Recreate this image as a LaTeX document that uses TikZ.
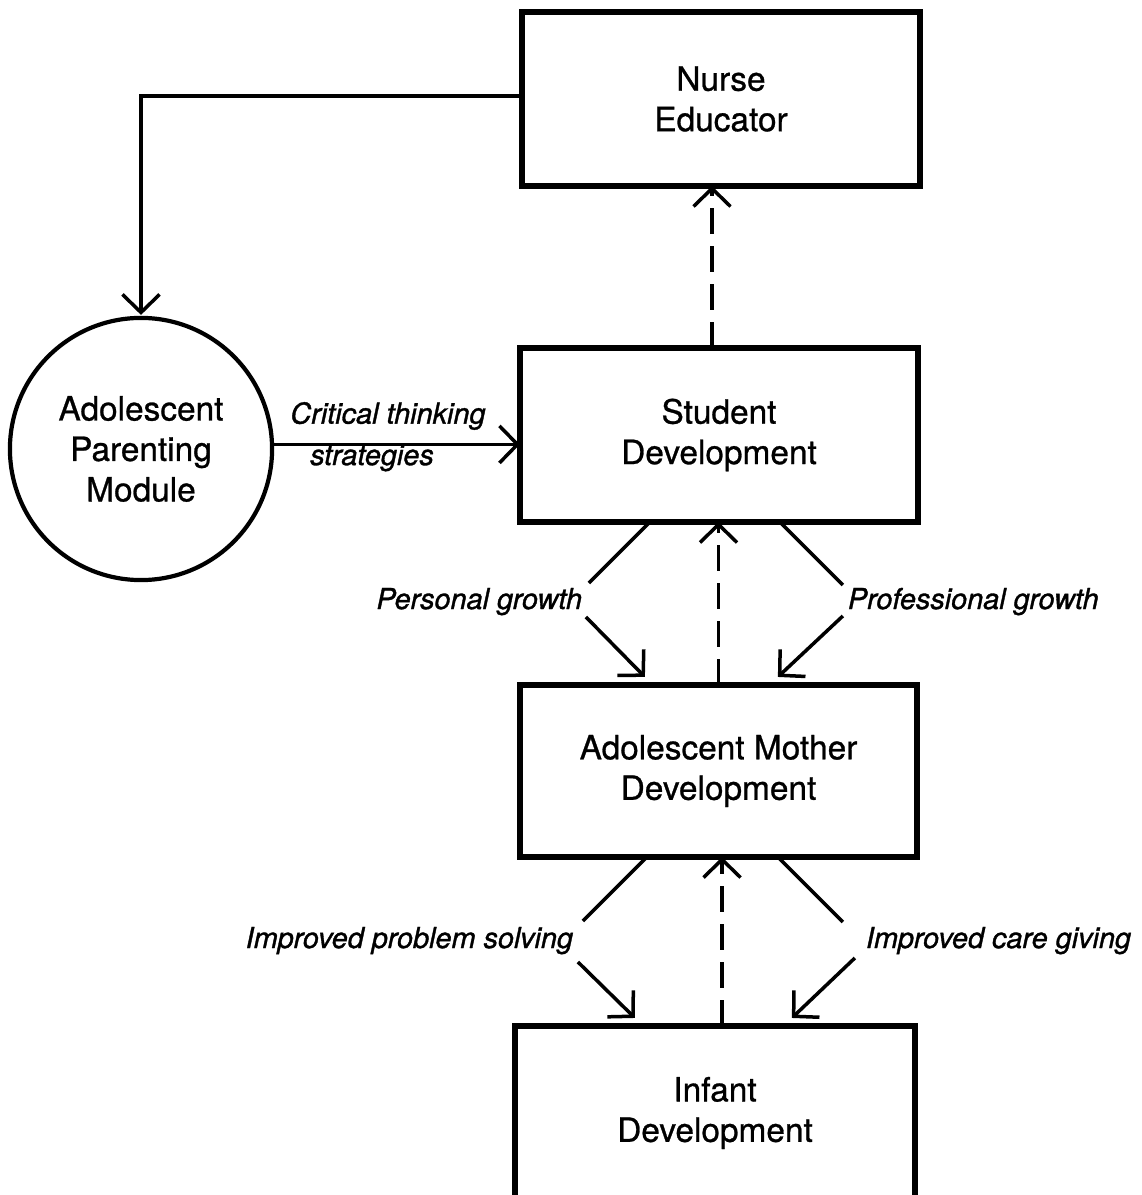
\documentclass[tikz,border=0pt]{standalone}
\usepackage{fontspec}
\setmainfont{TeX Gyre Heros}[FakeBold=0.8]
\newfontfamily\lblfont{TeX Gyre Heros}[FakeBold=1.2]
\usetikzlibrary{arrows.meta,calc}
\begin{document}
\begin{tikzpicture}[x=0.01cm,y=-0.01cm,
  box/.style={draw,line width=0.055cm,rectangle,align=center,inner sep=0pt,outer sep=0pt,
    font=\fontsize{9.5}{11.5}\selectfont},
  circ/.style={draw,line width=0.042cm,circle,align=center,inner sep=0pt,outer sep=0pt,
    minimum size=2.62cm,font=\fontsize{9.5}{11.5}\selectfont},
  lbl/.style={inner sep=0pt,outer sep=0pt,font=\lblfont\fontsize{8.2}{10}\selectfont\itshape},
  conn/.style={line width=0.035cm},
  dsh/.style={dash pattern=on 0.26cm off 0.12cm},
  >={Straight Barb[length=0.18cm,width=0.37cm]}
]
\useasboundingbox (0,0) rectangle (1141,1195);
\clip (0,0) rectangle (1141,1195);

% boxes
\node[box,minimum width=3.98cm,minimum height=1.74cm] (ne) at (721,99) {Nurse\\Educator};
\node[box,minimum width=3.98cm,minimum height=1.74cm] (sd) at (719,435) {Student\\Development};
\node[box,minimum width=3.97cm,minimum height=1.72cm] (amd) at (718.5,771) {Adolescent Mother\\Development};
\node[box,minimum width=4.00cm,minimum height=1.74cm] (inf) at (715,1113) {Infant\\Development};
\node[circ] (apm) at (141,449) {Adolescent\\Parenting\\Module};

% labels
\node[lbl] (ct1) at (388,416) {Critical thinking};
\node[lbl] (ct2) at (372,458) {strategies};
\node[lbl,anchor=base east] (pg) at (582,609) {Personal growth};
\node[lbl,anchor=base west] (prg) at (848,609) {Professional growth};
\node[lbl,anchor=base east] (ips) at (573,948) {Improved problem solving};
\node[lbl,anchor=base west] (icg) at (866,948) {Improved care giving};

% nurse educator -> module
\draw[conn,->] ([yshift=0.03cm]ne.west) -| ([yshift=0.03cm]apm.north);
% module -> student
\draw[conn,->] (apm.2.6) -- (apm.2.6 -| sd.west);

% dashed feedback arrows
\draw[conn,dsh,->] ([xshift=-0.07cm]sd.north) -- ([xshift=-0.07cm]sd.north |- ne.south);
\draw[conn,dsh,->] (amd.north) -- (amd.north |- sd.south);
\draw[conn,dsh,->] ([xshift=0.07cm]inf.north) -- ([xshift=0.07cm]inf.north |- amd.south);

% student -> mother
\draw[conn] ($(sd.south west)+(130,0)$) -- ($(sd.south west)+(69,61)$);
\draw[conn,->] ($(amd.north west)+(66,-68)$) -- ($(amd.north west)+(125,-8)$);
\draw[conn] ($(sd.south west)+(260,0)$) -- ($(sd.south west)+(323,63)$);
\draw[conn,->] ($(amd.north west)+(323,-69)$) -- ($(amd.north west)+(258,-8)$);

% mother -> infant
\draw[conn] ($(amd.south west)+(127,0)$) -- ($(amd.south west)+(63,64)$);
\draw[conn,->] ($(inf.north west)+(63,-64)$) -- ($(inf.north west)+(120,-8)$);
\draw[conn] ($(amd.south west)+(258,0)$) -- ($(amd.south west)+(323,65)$);
\draw[conn,->] ($(inf.north west)+(340,-68)$) -- ($(inf.north west)+(277,-8)$);
\end{tikzpicture}
\end{document}
